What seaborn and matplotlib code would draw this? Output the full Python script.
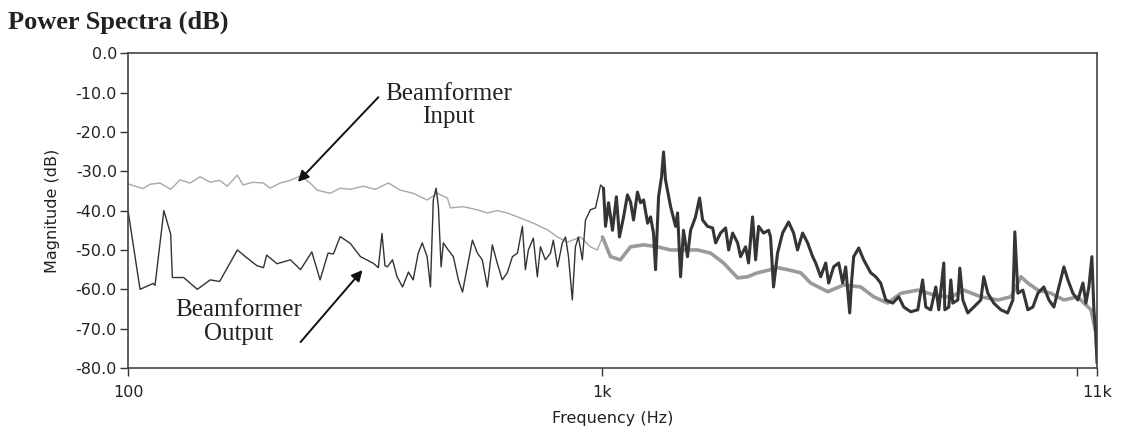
import matplotlib
matplotlib.use('Agg')
import matplotlib.pyplot as plt
from matplotlib.ticker import NullLocator
import seaborn as sns
import pandas as pd

# Beamformer input (light trace): frequency in Hz, magnitude in dB
in_freq = [100, 103.5, 107.6, 111.3, 116.8, 123, 128.7, 135.2, 141.9, 149,
           156, 161.8, 170, 174.8, 183.5, 193, 199.4, 209.3, 220, 231,
           242, 250.4, 266.8, 280, 294, 313, 332, 354, 375, 399,
           427, 449, 471, 478, 509, 545, 572, 600, 630, 672,
           715, 766, 804, 844, 899, 943, 976, 1000, 1040, 1091,
           1146, 1221, 1306, 1392, 1482, 1587, 1690, 1800, 1927, 2023,
           2123, 2261, 2294, 2456, 2617, 2747, 2984, 3224, 3503, 3731,
           3992, 4254, 4620, 4993, 5424, 5776, 6274, 6813, 7261, 7621,
           7882, 8275, 8813, 9388, 10050, 10347, 10710, 10960, 11025]
in_db = [-33.2, -33.8, -34.4, -33.3, -33, -34.6, -32.2, -33, -31.4, -32.8,
         -32.3, -33.8, -31, -33.5, -32.8, -33, -34.3, -33, -32.3, -31.2,
         -33, -34.8, -35.6, -34.3, -34.6, -33.8, -34.6, -33, -34.8, -35.6,
         -37.3, -35.6, -36.8, -39.3, -39, -39.8, -40.6, -40, -40.6, -41.9,
         -43.2, -44.9, -46.7, -48, -46.7, -49.2, -50, -46.7, -51.7, -52.5,
         -49.2, -48.7, -49.2, -50, -50, -50, -50.8, -53.3, -57.1, -56.8,
         -55.8, -55, -54.3, -55, -55.8, -58.4, -60.6, -58.9, -59.4, -61.9,
         -63.5, -61, -60.2, -61.4, -62, -60.2, -61.9, -62.7, -61.9, -56.8,
         -58.4, -60.2, -61, -62.7, -61.9, -63.5, -65.2, -71, -76]

# Beamformer output (dark trace)
out_freq = [100, 106, 113, 114, 119, 123, 124, 131, 140, 149,
            156, 170, 178, 187, 193, 196, 206, 220, 231, 244,
            254, 264, 271, 280, 294, 309, 329, 337, 343, 348,
            352, 361, 369, 379, 390, 399, 409, 417, 427, 434,
            440, 446, 451, 457, 462, 473, 485, 497, 507, 519,
            532, 545, 558, 572, 586, 600, 615, 630, 646, 662,
            678, 688, 698, 715, 729, 740, 758, 777, 788, 804,
            823, 836, 848, 864, 877, 890, 907, 921, 943, 967,
            991, 1005, 1015, 1030, 1050, 1070, 1086, 1108, 1129, 1146,
            1163, 1185, 1203, 1221, 1245, 1263, 1281, 1294, 1313, 1332,
            1345, 1358, 1392, 1426, 1440, 1461, 1482, 1511, 1534, 1571,
            1602, 1626, 1665, 1707, 1732, 1774, 1818, 1845, 1881, 1927,
            1955, 2003, 2032, 2072, 2103, 2134, 2186, 2240, 2261, 2294,
            2339, 2397, 2468, 2529, 2577, 2642, 2707, 2774, 2815, 2884,
            2955, 2998, 3071, 3147, 3209, 3256, 3320, 3353, 3385, 3469,
            3553, 3677, 3767, 3859, 3955, 4092, 4213, 4316, 4465, 4620,
            4730, 4803, 4921, 5042, 5116, 5242, 5268, 5371, 5424, 5476,
            5611, 5666, 5749, 5888, 6064, 6274, 6364, 6491, 6681, 6914,
            7145, 7329, 7400, 7509, 7694, 7882, 8077, 8275, 8520, 8730,
            8944, 9164, 9388, 9573, 9808, 10050, 10297, 10450, 10600, 10755,
            10860, 10960, 11025]
out_db = [-40, -60, -58.5, -59, -40, -46, -57, -57, -60, -57.6,
          -58, -50, -52, -54, -54.5, -51.3, -53.5, -52.5, -55, -50.5,
          -57.6, -50.8, -51, -46.6, -48.3, -51.7, -53.4, -54.5, -45.8, -54,
          -54.3, -52.5, -56.8, -59.4, -55.6, -57.6, -50.8, -48.2, -51.7, -59.4,
          -37.3, -34.3, -39, -54.3, -48.2, -50, -51.7, -57.6, -60.7, -54.3,
          -47.5, -50.8, -52.5, -59.4, -48.7, -53.3, -57.6, -55.8, -51.7, -50.8,
          -44, -55, -50, -47, -56.8, -49.2, -52.5, -50.8, -47.5, -54.3,
          -48.2, -46.7, -51.7, -62.7, -49.2, -46.7, -52.5, -42.4, -39.8, -39.3,
          -33.5, -34.3, -44, -38, -45, -36.5, -46.7, -41.6, -36, -37.8,
          -42.4, -35.3, -38, -37.3, -43.2, -41.6, -45.7, -55, -36.5, -31.5,
          -25.1, -32.2, -39, -44, -40.6, -56.8, -45, -51.7, -45, -41.6,
          -36.8, -42.4, -44, -44.4, -48.2, -45.7, -44.4, -50, -45.7, -48.2,
          -51.7, -49.2, -53.3, -41.6, -52.5, -44, -45.7, -45, -46.7, -59.4,
          -50.8, -45.7, -42.9, -45.7, -50, -45.7, -48.2, -51.7, -53.3, -56.8,
          -53.3, -58.4, -54.3, -53.3, -58.4, -54.3, -66, -57.6, -51.7, -49.5,
          -52.5, -55.8, -56.8, -58.4, -62.7, -63.5, -61.9, -64.5, -65.7, -65.2,
          -57.6, -64.5, -65.2, -59.4, -65.2, -53.3, -65.2, -64.5, -57.6, -63.5,
          -62.7, -54.6, -62.7, -66, -64.5, -62.7, -56.8, -61, -63.5, -65.2,
          -66, -62.7, -45.4, -61, -60.2, -65.2, -64.5, -61, -59.4, -62.7,
          -64.5, -59.4, -54.3, -57.6, -61, -62.7, -58.4, -63.5, -59.4, -51.7,
          -65.2, -71, -78.7]

xtick_vals = [100, 1000, 10000, 11025]
xtick_labels = ['100', '1k', '', '11k']
ytick_vals = [0, -10, -20, -30, -40, -50, -60, -70, -80]
ytick_labels = ['0.0', '-10.0', '-20.0', '-30.0', '-40.0', '-50.0', '-60.0', '-70.0', '-80.0']

sns.set_style('white')
plt.rcParams['font.family'] = ['DejaVu Sans']

df_in = pd.DataFrame({'freq': in_freq, 'db': in_db})
df_out = pd.DataFrame({'freq': out_freq, 'db': out_db})

fig = plt.figure(figsize=(11.25, 4.32), dpi=100)
ax = fig.add_axes([0.1138, 0.148, 0.8613, 0.729])
ax.set_xscale('log')

# thin below 1 kHz, dense (thick) band above
sns.lineplot(data=df_in, x='freq', y='db', ax=ax, color='#a8a8a8', lw=1.0,
             sort=False, estimator=None)
sns.lineplot(data=df_in[df_in['freq'] >= 990], x='freq', y='db', ax=ax,
             color='#9a9a9a', lw=2.6, sort=False, estimator=None)
sns.lineplot(data=df_out, x='freq', y='db', ax=ax, color='#333333', lw=1.0,
             sort=False, estimator=None)
sns.lineplot(data=df_out[df_out['freq'] >= 1000], x='freq', y='db', ax=ax,
             color='#353535', lw=2.2, sort=False, estimator=None)

ax.set_xlim(100, 11025)
ax.set_ylim(-80, 0)
ax.set_xticks(xtick_vals, xtick_labels)
ax.xaxis.set_minor_locator(NullLocator())
ax.set_yticks(ytick_vals, ytick_labels)
ax.tick_params(bottom=True, left=True, direction='out', length=6, width=1,
               color='#333333', labelcolor='#222222', labelsize=11.5, pad=2)
ax.tick_params(axis='x', pad=6)
for s in ax.spines.values():
    s.set_color('#444444')
    s.set_linewidth(1.2)

ax.set_xlabel('Frequency (Hz)', fontsize=11.5, color='#222222', labelpad=8)
ax.set_ylabel('Magnitude (dB)', fontsize=11.5, color='#222222', labelpad=11)

serif = ['Liberation Serif', 'DejaVu Serif']
ax.text(473, -7.5, 'Beamformer\nInput', ha='center', va='top', fontsize=18,
        family=serif, color='#222222', linespacing=1.1)
ax.annotate('', xy=(228, -32.7), xytext=(337, -11.2),
            arrowprops=dict(arrowstyle='-|>', lw=1.4, color='#111111',
                            mutation_scale=16, shrinkA=0, shrinkB=0))
ax.text(171, -62.5, 'Beamformer\nOutput', ha='center', va='top', fontsize=18,
        family=serif, color='#222222', linespacing=1.1)
ax.annotate('', xy=(312, -55.1), xytext=(231, -73.4),
            arrowprops=dict(arrowstyle='-|>', lw=1.4, color='#111111',
                            mutation_scale=16, shrinkA=0, shrinkB=0))

fig.text(0.007, 0.933, 'Power Spectra (dB)', ha='left', va='baseline',
         fontsize=19, weight='bold', family=serif, color='#222222')

fig.savefig('out.png', dpi=100)
